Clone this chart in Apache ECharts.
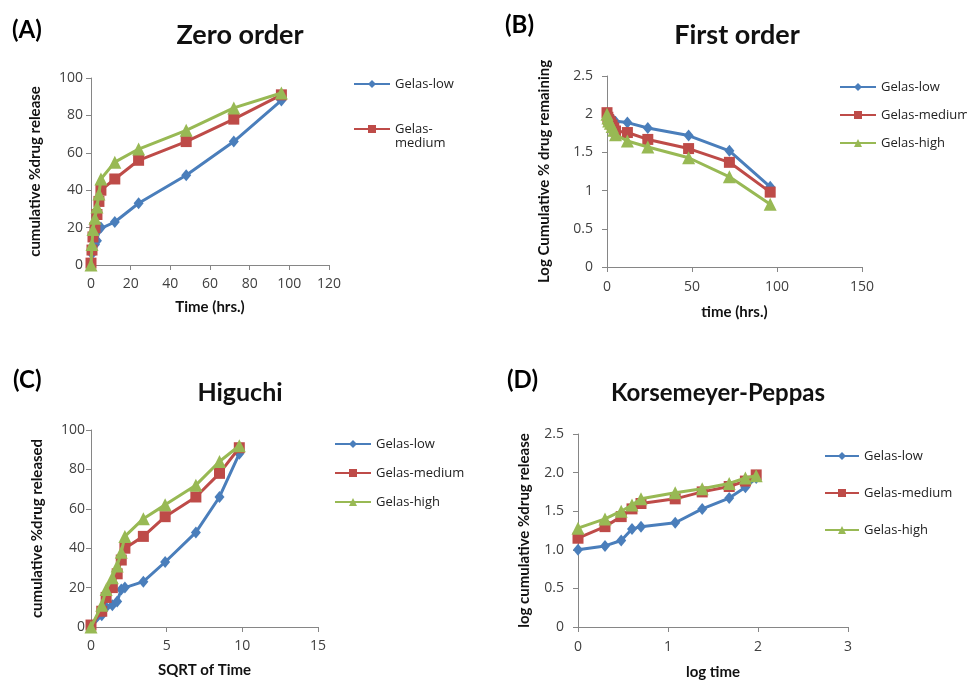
<!DOCTYPE html>
<html><head><meta charset="utf-8">
<script src="https://cdn.jsdelivr.net/npm/echarts@6/dist/echarts.min.js"></script>
<style>html,body{margin:0;padding:0;background:#fff}#c{width:967px;height:682px}</style>
</head><body><div id="c"></div>
<script>
// ---- data ----
const seriesNames = ['Gelas-low', 'Gelas-medium', 'Gelas-high'];
const timeHrs  = [0, 0.5, 1, 2, 3, 4, 5, 12, 24, 48, 72, 96];
const sqrtTime = [0, 0.71, 1, 1.41, 1.73, 2, 2.24, 3.46, 4.9, 6.93, 8.49, 9.8];
const logTime  = [0, 0.3, 0.48, 0.6, 0.7, 1.08, 1.38, 1.68, 1.86, 1.98];

const releaseLow    = [0, 6, 10, 11, 13, 19, 20, 23, 33, 48, 66, 88];
const releaseMedium = [1, 8, 15, 20, 27, 34, 40, 46, 56, 66, 78, 91];
const releaseHigh   = [0, 11, 19, 25, 31, 38, 46, 55, 62, 72, 84, 92];

const remainLow    = [2.0, 1.97, 1.95, 1.95, 1.94, 1.91, 1.90, 1.89, 1.82, 1.72, 1.52, 1.05];
const remainMedium = [2.02, 1.96, 1.93, 1.90, 1.86, 1.82, 1.78, 1.76, 1.67, 1.55, 1.37, 0.98];
const remainHigh   = [2.0, 1.95, 1.91, 1.88, 1.84, 1.79, 1.73, 1.65, 1.57, 1.43, 1.18, 0.82];

const kpLow    = [1.0, 1.05, 1.12, 1.27, 1.30, 1.35, 1.53, 1.67, 1.81, 1.93];
const kpMedium = [1.15, 1.30, 1.43, 1.53, 1.60, 1.66, 1.75, 1.82, 1.89, 1.97];
const kpHigh   = [1.28, 1.40, 1.50, 1.58, 1.66, 1.74, 1.79, 1.86, 1.93, 1.96];

const panelLabels = ['(A)', '(B)', '(C)', '(D)'];
const panelTitles = ['Zero order', 'First order', 'Higuchi', 'Korsemeyer-Peppas'];
const xNames = ['Time (hrs.)', 'time (hrs.)', 'SQRT of Time', 'log time'];
const yNames = ['cumulative %drug release', 'Log Cumulative % drug remaining', 'cumulative %drug released', 'log cumulative %drug release'];

// ---- styles ----
const colors = ['#4a7ebb', '#be4b48', '#98b954'];
const symbols = ['diamond', 'rect', 'triangle'];
const symbolSizes = [[10, 12], 11, 13];
const tickFont = 'Open Sans';
const boldFont = 'Lato';

function zip(xs, ys) { return ys.map((y, i) => [xs[i], y]); }

const grids = [
  {left: 91, top: 78, width: 238, height: 187},
  {left: 607, top: 76, width: 255, height: 191},
  {left: 91, top: 430, width: 227, height: 197},
  {left: 578, top: 434, width: 270, height: 193}
];

const xCfg = [
  {min: 0, max: 120, interval: 20, gap: 35, margin: 12},
  {min: 0, max: 150, interval: 50, gap: 38, margin: 13},
  {min: 0, max: 15, interval: 5, gap: 36, margin: 12},
  {min: 0, max: 3, interval: 1, gap: 38, margin: 13}
];
const yCfg = [
  {min: 0, max: 100, interval: 20, gap: 48, margin: 8, fmt: v => String(v)},
  {min: 0, max: 2.5, interval: 0.5, gap: 55, margin: 14, fmt: v => String(v)},
  {min: 0, max: 100, interval: 20, gap: 46, margin: 6, fmt: v => String(v)},
  {min: 0, max: 2.5, interval: 0.5, gap: 46, margin: 14, fmt: v => v === 0 ? '0' : v.toFixed(1)}
];

const axisLine = {show: true, lineStyle: {color: '#868686', width: 1}};
const axisTick = {show: true, inside: false, length: 5, lineStyle: {color: '#868686'}};
const axisLabelBase = {color: '#404040', fontFamily: tickFont, fontSize: 14};
const nameStyle = {color: '#111', fontFamily: boldFont, fontWeight: 'bold', fontSize: 15};

const xAxis = xCfg.map((c, i) => ({
  type: 'value', gridIndex: i, min: c.min, max: c.max, interval: c.interval,
  name: xNames[i], nameLocation: 'middle', nameGap: c.gap, nameTextStyle: nameStyle,
  axisLine, axisTick, splitLine: {show: false},
  axisLabel: Object.assign({margin: c.margin}, axisLabelBase)
}));
const yAxis = yCfg.map((c, i) => ({
  type: 'value', gridIndex: i, min: c.min, max: c.max, interval: c.interval,
  name: yNames[i], nameLocation: 'middle', nameGap: c.gap, nameTextStyle: nameStyle,
  axisLine, axisTick, splitLine: {show: false},
  axisLabel: Object.assign({margin: c.margin, formatter: c.fmt}, axisLabelBase)
}));

const panelData = [
  [zip(timeHrs, releaseLow), zip(timeHrs, releaseMedium), zip(timeHrs, releaseHigh)],
  [zip(timeHrs, remainLow), zip(timeHrs, remainMedium), zip(timeHrs, remainHigh)],
  [zip(sqrtTime, releaseLow), zip(sqrtTime, releaseMedium), zip(sqrtTime, releaseHigh)],
  [zip(logTime, kpLow), zip(logTime, kpMedium), zip(logTime, kpHigh)]
];

const series = [];
panelData.forEach((sets, p) => {
  sets.forEach((d, k) => {
    series.push({
      type: 'line', name: seriesNames[k], xAxisIndex: p, yAxisIndex: p, data: d,
      symbol: symbols[k], symbolSize: symbolSizes[k], showAllSymbol: true, clip: false,
      color: colors[k],
      lineStyle: {color: colors[k], width: 3},
      itemStyle: {color: colors[k]},
      z: 2 + k
    });
  });
});

const legendText = {color: '#222', fontFamily: tickFont, fontSize: 13, lineHeight: 14};
const legendBase = {orient: 'vertical', padding: 0, itemWidth: 36, itemHeight: 10, selectedMode: false, textStyle: legendText};
const legend = [
  Object.assign({}, legendBase, {left: 353, top: 77, itemGap: 17, data: ['Gelas-low', 'Gelas-medium'],
    formatter: n => n === 'Gelas-medium' ? '\nGelas-\nmedium' : n}),
  Object.assign({}, legendBase, {left: 839, top: 80, itemGap: 14, itemWidth: 36, data: seriesNames}),
  Object.assign({}, legendBase, {left: 334, top: 437, itemGap: 15, data: seriesNames}),
  Object.assign({}, legendBase, {left: 824, top: 449, itemGap: 23, itemWidth: 34, data: seriesNames})
];

const labelPos = [[12, 18], [505, 13], [13, 368], [507, 368]];
const titlePos = [[240, 22, 27], [737, 22, 27], [240, 380, 25], [718, 381, 24]];
const title = [];
panelLabels.forEach((t, i) => title.push({
  text: t, left: labelPos[i][0], top: labelPos[i][1], padding: 0,
  textStyle: {fontFamily: boldFont, fontWeight: 'bold', fontSize: 24, color: '#000'}
}));
panelTitles.forEach((t, i) => title.push({
  text: t, left: titlePos[i][0], top: titlePos[i][1], textAlign: 'center', padding: 0,
  textStyle: {fontFamily: boldFont, fontWeight: 'bold', fontSize: titlePos[i][2], color: '#111'}
}));

const chart = echarts.init(document.getElementById('c'), null, {renderer: 'canvas'});
chart.setOption({
  backgroundColor: '#fff',
  animation: false,
  title, legend, grid: grids, xAxis, yAxis, series
});
</script>
</body></html>
